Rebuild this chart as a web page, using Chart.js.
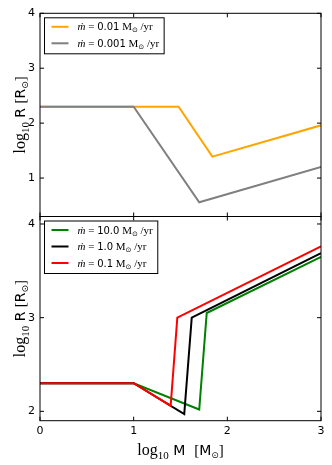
<!DOCTYPE html>
<html>
<head>
<meta charset="utf-8">
<script src="https://cdn.jsdelivr.net/npm/chart.js@4"></script>
<style>
  body { margin: 0; background: #fff; }
  canvas { position: absolute; left: 0; top: 0; }
</style>
</head>
<body>
<canvas id="topCanvas" width="332" height="465"></canvas>
<canvas id="bottomCanvas" width="332" height="465"></canvas>
<script>
// tick labels
const xTicks = [0, 1, 2, 3];
const yTicksTop = [1, 2, 3, 4];
const yTicksBottom = [2, 3, 4];

// top panel: mdot = 0.01 and 0.001
const orangeM = [0, 1, 1.48, 1.84, 3];
const orangeR = [2.3, 2.3, 2.3, 1.39, 1.96];
const grayM = [0, 1, 1.70, 3];
const grayR = [2.3, 2.3, 0.56, 1.2];
const topRates = ['0.01', '0.001'];

// bottom panel: mdot = 10, 1, 0.1
const greenM = [0, 1, 1.70, 1.78, 3];
const greenR = [2.3, 2.3, 2.02, 3.05, 3.65];
const blackM = [0, 1, 1.54, 1.62, 3];
const blackR = [2.3, 2.3, 1.97, 3.0, 3.69];
const redM = [0, 1, 1.395, 1.466, 3];
const redR = [2.3, 2.3, 2.06, 3.0, 3.76];
const bottomRates = ['10.0', '1.0', '0.1'];

const SERIF = '"Liberation Serif", "DejaVu Serif", serif';
const SANS = '"DejaVu Sans", sans-serif';

const pts = (m, r) => m.map((v, i) => ({ x: v, y: r[i] }));

function drawRich(ctx, parts, x, y, align) {
    let w = 0;
    parts.forEach(p => { ctx.font = p.font; w += ctx.measureText(p.t).width; });
    let cx = align === 'center' ? x - w / 2 : x;
    ctx.textAlign = 'left';
    ctx.textBaseline = 'alphabetic';
    parts.forEach(p => {
        ctx.font = p.font;
        ctx.fillText(p.t, cx, y + (p.dy || 0));
        cx += ctx.measureText(p.t).width;
    });
}

const rateParts = (val) => [
    { t: 'ṁ', font: 'italic 11px ' + SERIF },
    { t: ' = ', font: '11px ' + SERIF },
    { t: val, font: '10px ' + SANS },
    { t: ' M', font: '11px ' + SERIF },
    { t: '⊙', font: '7px ' + SANS, dy: 2 },
    { t: ' /yr', font: '11px ' + SERIF }
];

const yTitleParts = [
    { t: 'log', font: '16px ' + SERIF },
    { t: '10', font: '11px ' + SERIF, dy: 4 },
    { t: ' R ', font: '14px ' + SANS },
    { t: '[', font: '15px ' + SERIF },
    { t: 'R', font: '14px ' + SANS },
    { t: '⊙', font: '9px ' + SANS, dy: 3 },
    { t: ']', font: '15px ' + SERIF }
];

const xTitleParts = [
    { t: 'log', font: '16px ' + SERIF },
    { t: '10', font: '11px ' + SERIF, dy: 4 },
    { t: ' M  ', font: '14px ' + SANS },
    { t: '[', font: '15px ' + SERIF },
    { t: 'M', font: '14px ' + SANS },
    { t: '⊙', font: '9px ' + SANS, dy: 3 },
    { t: ']', font: '15px ' + SERIF }
];

// frame, inward ticks, legend box and axis titles
function panelPlugin(legendItems, yTicks, showXTitle) {
    return {
        id: 'panel',
        afterDraw(chart) {
            const ctx = chart.ctx;
            const a = chart.chartArea;
            const xs = chart.scales.x, ys = chart.scales.y;
            ctx.save();
            ctx.strokeStyle = '#000';
            ctx.lineWidth = 1;
            ctx.strokeRect(a.left, a.top, a.right - a.left, a.bottom - a.top);
            ctx.beginPath();
            yTicks.forEach(v => {
                const py = ys.getPixelForValue(v);
                ctx.moveTo(a.left, py); ctx.lineTo(a.left + 4, py);
                ctx.moveTo(a.right, py); ctx.lineTo(a.right - 4, py);
            });
            xTicks.forEach(v => {
                const px = xs.getPixelForValue(v);
                ctx.moveTo(px, a.bottom); ctx.lineTo(px, a.bottom - 4);
                ctx.moveTo(px, a.top); ctx.lineTo(px, a.top + 4);
            });
            ctx.stroke();

            // legend
            const lx = 44.5, ly = a.top + 4.5;
            const rowH = 16.5;
            let maxW = 0;
            legendItems.forEach(it => {
                let w = 0;
                rateParts(it.label).forEach(p => { ctx.font = p.font; w += ctx.measureText(p.t).width; });
                maxW = Math.max(maxW, w);
            });
            const boxW = 33 + maxW + 5;
            const boxH = legendItems.length * rowH + 3;
            ctx.fillStyle = '#fff';
            ctx.fillRect(lx, ly, boxW, boxH);
            ctx.strokeStyle = '#000';
            ctx.strokeRect(lx, ly, boxW, boxH);
            legendItems.forEach((it, i) => {
                const cy = ly + 9 + i * rowH;
                ctx.strokeStyle = it.color;
                ctx.lineWidth = 2;
                ctx.beginPath();
                ctx.moveTo(lx + 7, cy); ctx.lineTo(lx + 24, cy);
                ctx.stroke();
                ctx.fillStyle = '#000';
                drawRich(ctx, rateParts(it.label), lx + 33, cy + 3.5, 'left');
            });

            // y title
            ctx.fillStyle = '#000';
            ctx.save();
            ctx.translate(25, (a.top + a.bottom) / 2);
            ctx.rotate(-Math.PI / 2);
            drawRich(ctx, yTitleParts, 0, 0, 'center');
            ctx.restore();

            if (showXTitle) {
                drawRich(ctx, xTitleParts, (a.left + a.right) / 2, 455, 'center');
            }
            ctx.restore();
        }
    };
}

const lineDs = (m, r, color, order) => ({
    data: pts(m, r),
    borderColor: color,
    borderWidth: 2,
    pointRadius: 0,
    tension: 0,
    fill: false,
    order: order
});

function baseOptions(yMin, yMax, yTicks, showX, padding) {
    return {
        responsive: false,
        animation: false,
        events: [],
        layout: { padding: padding },
        plugins: { legend: { display: false }, tooltip: { enabled: false } },
        scales: {
            x: {
                type: 'linear',
                min: 0, max: 3,
                display: showX,
                afterBuildTicks: s => { s.ticks = xTicks.map(v => ({ value: v })); },
                afterFit: s => { if (showX) s.height = 44.3; },
                grid: { display: false, drawTicks: false },
                border: { display: false },
                ticks: { padding: 4, color: '#000', font: { family: 'DejaVu Sans', size: 11 } }
            },
            y: {
                type: 'linear',
                min: yMin, max: yMax,
                afterBuildTicks: s => { s.ticks = yTicks.map(v => ({ value: v })); },
                afterFit: s => { s.width = 40; },
                grid: { display: false, drawTicks: false },
                border: { display: false },
                ticks: { padding: 5, color: '#000', font: { family: 'DejaVu Sans', size: 11 } }
            }
        }
    };
}

new Chart(document.getElementById('topCanvas'), {
    type: 'line',
    data: {
        datasets: [
            lineDs(orangeM, orangeR, '#FFA500', 1),
            lineDs(grayM, grayR, '#808080', 0)
        ]
    },
    options: baseOptions(0.3, 4, yTicksTop, false, { top: 13.3, right: 11, bottom: 248.5, left: 0 }),
    plugins: [panelPlugin([
        { label: topRates[0], color: '#FFA500' },
        { label: topRates[1], color: '#808080' }
    ], yTicksTop, false)]
});

new Chart(document.getElementById('bottomCanvas'), {
    type: 'line',
    data: {
        datasets: [
            lineDs(greenM, greenR, '#008000', 2),
            lineDs(blackM, blackR, '#000000', 1),
            lineDs(redM, redR, '#FF0000', 0)
        ]
    },
    options: baseOptions(1.9, 4.08, yTicksBottom, true, { top: 216.5, right: 11, bottom: 0, left: 0 }),
    plugins: [panelPlugin([
        { label: bottomRates[0], color: '#008000' },
        { label: bottomRates[1], color: '#000000' },
        { label: bottomRates[2], color: '#FF0000' }
    ], yTicksBottom, true)]
});
</script>
</body>
</html>
